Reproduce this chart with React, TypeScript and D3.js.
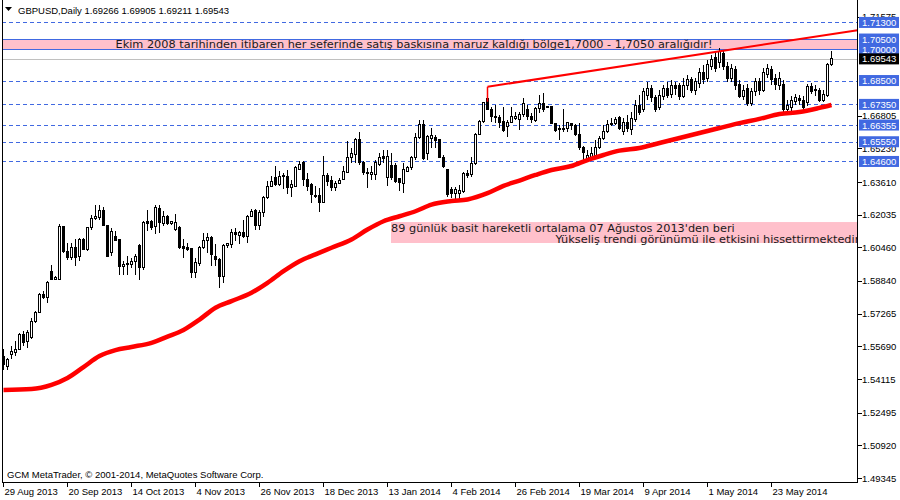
import React, { useEffect } from 'react'
import * as d3 from 'd3'

// GBPUSD daily candles, 29 Aug 2013 .. 13 Jun 2014
const opens = [
  1.5522, 1.5474, 1.5530, 1.5538, 1.5554, 1.5626, 1.5594, 1.5610, 1.5690, 1.5731,
  1.5819, 1.5803, 1.5931, 1.5891, 1.5891, 1.6148, 1.6028, 1.5996, 1.6044, 1.6004,
  1.6084, 1.6036, 1.6140, 1.6185, 1.6188, 1.6225, 1.6151, 1.6020, 1.6097, 1.6084,
  1.5952, 1.5963, 1.5963, 1.5979, 1.6055, 1.5947, 1.6169, 1.6172, 1.6145, 1.6232,
  1.6161, 1.6196, 1.6161, 1.6132, 1.6140, 1.6049, 1.6044, 1.6039, 1.5923, 1.5968,
  1.6044, 1.6081, 1.6092, 1.6004, 1.5987, 1.5904, 1.6055, 1.6060, 1.6119, 1.6103,
  1.6116, 1.6100, 1.6196, 1.6225, 1.6151, 1.6212, 1.6285, 1.6341, 1.6381, 1.6349,
  1.6392, 1.6386, 1.6333, 1.6341, 1.6421, 1.6453, 1.6373, 1.6349, 1.6296, 1.6296,
  1.6261, 1.6392, 1.6370, 1.6333, 1.6354, 1.6373, 1.6405, 1.6477, 1.6493, 1.6566,
  1.6453, 1.6405, 1.6397, 1.6397, 1.6445, 1.6485, 1.6381, 1.6440, 1.6440, 1.6376,
  1.6354, 1.6413, 1.6429, 1.6477, 1.6574, 1.6636, 1.6499, 1.6572, 1.6576, 1.6564,
  1.6480, 1.6419, 1.6323, 1.6307, 1.6307, 1.6315, 1.6400, 1.6395, 1.6448, 1.6592,
  1.6652, 1.6764, 1.6711, 1.6673, 1.6673, 1.6652, 1.6628, 1.6647, 1.6668, 1.6663,
  1.6684, 1.6708, 1.6676, 1.6657, 1.6716, 1.6737, 1.6721, 1.6724, 1.6641, 1.6620,
  1.6615, 1.6620, 1.6641, 1.6631, 1.6592, 1.6528, 1.6475, 1.6480, 1.6491, 1.6528,
  1.6572, 1.6604, 1.6636, 1.6641, 1.6673, 1.6602, 1.6650, 1.6612, 1.6660, 1.6732,
  1.6708, 1.6780, 1.6814, 1.6766, 1.6718, 1.6775, 1.6814, 1.6785, 1.6824, 1.6824,
  1.6775, 1.6824, 1.6853, 1.6804, 1.6838, 1.6891, 1.6862, 1.6920, 1.6959, 1.6939,
  1.6978, 1.6920, 1.6862, 1.6901, 1.6833, 1.6775, 1.6814, 1.6737, 1.6795, 1.6843,
  1.6804, 1.6881, 1.6901, 1.6862, 1.6824, 1.6833, 1.6708, 1.6718, 1.6747, 1.6761,
  1.6756, 1.6742, 1.6819, 1.6800, 1.6804, 1.6756, 1.6780, 1.69266,
]
const highs = [
  1.5554, 1.5514, 1.5570, 1.5594, 1.5634, 1.5642, 1.5650, 1.5706, 1.5739, 1.5827,
  1.5835, 1.5883, 1.5963, 1.5907, 1.6161, 1.6151, 1.6068, 1.6068, 1.6084, 1.6092,
  1.6092, 1.6145, 1.6204, 1.6252, 1.6248, 1.6241, 1.6156, 1.6140, 1.6124, 1.6087,
  1.5979, 1.6004, 1.5996, 1.6012, 1.6060, 1.6172, 1.6225, 1.6180, 1.6248, 1.6252,
  1.6220, 1.6204, 1.6175, 1.6209, 1.6148, 1.6084, 1.6068, 1.6044, 1.5996, 1.6052,
  1.6116, 1.6116, 1.6100, 1.6060, 1.5996, 1.6060, 1.6068, 1.6135, 1.6140, 1.6124,
  1.6180, 1.6204, 1.6232, 1.6232, 1.6228, 1.6293, 1.6365, 1.6389, 1.6437, 1.6413,
  1.6405, 1.6421, 1.6373, 1.6437, 1.6461, 1.6461, 1.6405, 1.6357, 1.6341, 1.6333,
  1.6485, 1.6402, 1.6389, 1.6365, 1.6381, 1.6437, 1.6558, 1.6525, 1.6574, 1.6601,
  1.6461, 1.6429, 1.6437, 1.6469, 1.6501, 1.6517, 1.6517, 1.6501, 1.6453, 1.6381,
  1.6453, 1.6440, 1.6485, 1.6598, 1.6662, 1.6660, 1.6588, 1.6620, 1.6588, 1.6566,
  1.6491, 1.6422, 1.6339, 1.6339, 1.6347, 1.6411, 1.6419, 1.6483, 1.6596, 1.6660,
  1.6748, 1.6788, 1.6724, 1.6732, 1.6684, 1.6724, 1.6660, 1.6724, 1.6700, 1.6700,
  1.6764, 1.6732, 1.6692, 1.6724, 1.6780, 1.6788, 1.6727, 1.6727, 1.6647, 1.6636,
  1.6711, 1.6652, 1.6647, 1.6641, 1.6647, 1.6535, 1.6515, 1.6528, 1.6564, 1.6583,
  1.6636, 1.6660, 1.6668, 1.6673, 1.6679, 1.6669, 1.6684, 1.6698, 1.6756, 1.6780,
  1.6814, 1.6843, 1.6828, 1.6780, 1.6804, 1.6828, 1.6843, 1.6853, 1.6843, 1.6838,
  1.6862, 1.6877, 1.6867, 1.6862, 1.6910, 1.6925, 1.6949, 1.6973, 1.6988, 1.7007,
  1.6997, 1.6939, 1.6930, 1.6920, 1.6853, 1.6828, 1.6833, 1.6814, 1.6862, 1.6862,
  1.6910, 1.6930, 1.6920, 1.6881, 1.6891, 1.6853, 1.6756, 1.6775, 1.6785, 1.6780,
  1.6775, 1.6833, 1.6838, 1.6828, 1.6814, 1.6804, 1.6935, 1.69905,
]
const lows = [
  1.5457, 1.5457, 1.5506, 1.5522, 1.5554, 1.5570, 1.5562, 1.5602, 1.5682, 1.5731,
  1.5795, 1.5779, 1.5891, 1.5888, 1.5891, 1.6020, 1.5987, 1.5987, 1.5955, 1.5979,
  1.6036, 1.6028, 1.6132, 1.6180, 1.6180, 1.6148, 1.6004, 1.6004, 1.6076, 1.5915,
  1.5915, 1.5915, 1.5947, 1.5915, 1.5891, 1.5939, 1.6124, 1.6132, 1.6108, 1.6116,
  1.6148, 1.6156, 1.6156, 1.6124, 1.6039, 1.5996, 1.6028, 1.5899, 1.5899, 1.5955,
  1.6036, 1.6020, 1.5955, 1.5955, 1.5851, 1.5875, 1.6044, 1.6044, 1.6076, 1.6060,
  1.6092, 1.6068, 1.6193, 1.6132, 1.6129, 1.6193, 1.6277, 1.6341, 1.6341, 1.6341,
  1.6325, 1.6301, 1.6289, 1.6341, 1.6418, 1.6341, 1.6317, 1.6261, 1.6285, 1.6216,
  1.6261, 1.6341, 1.6317, 1.6317, 1.6349, 1.6370, 1.6405, 1.6453, 1.6453, 1.6445,
  1.6397, 1.6333, 1.6373, 1.6373, 1.6437, 1.6453, 1.6341, 1.6373, 1.6357, 1.6317,
  1.6309, 1.6408, 1.6421, 1.6469, 1.6566, 1.6467, 1.6467, 1.6523, 1.6523, 1.6475,
  1.6427, 1.6291, 1.6283, 1.6274, 1.6274, 1.6307, 1.6379, 1.6387, 1.6443, 1.6588,
  1.6647, 1.6708, 1.6652, 1.6644, 1.6620, 1.6604, 1.6580, 1.6644, 1.6660, 1.6612,
  1.6676, 1.6660, 1.6644, 1.6652, 1.6692, 1.6700, 1.6716, 1.6644, 1.6604, 1.6564,
  1.6604, 1.6604, 1.6612, 1.6583, 1.6515, 1.6467, 1.6467, 1.6475, 1.6483, 1.6519,
  1.6564, 1.6599, 1.6631, 1.6636, 1.6612, 1.6588, 1.6602, 1.6588, 1.6650, 1.6684,
  1.6698, 1.6756, 1.6747, 1.6698, 1.6708, 1.6756, 1.6766, 1.6766, 1.6780, 1.6756,
  1.6766, 1.6804, 1.6790, 1.6780, 1.6814, 1.6833, 1.6843, 1.6901, 1.6891, 1.6910,
  1.6901, 1.6843, 1.6843, 1.6804, 1.6766, 1.6756, 1.6727, 1.6727, 1.6775, 1.6780,
  1.6795, 1.6862, 1.6828, 1.6804, 1.6804, 1.6694, 1.6689, 1.6698, 1.6732, 1.6732,
  1.6708, 1.6727, 1.6785, 1.6775, 1.6747, 1.6747, 1.6771, 1.69211,
]
const closes = [
  1.5482, 1.5506, 1.5546, 1.5554, 1.5626, 1.5586, 1.5634, 1.5690, 1.5731, 1.5819,
  1.5803, 1.5875, 1.5891, 1.5899, 1.6148, 1.6028, 1.5996, 1.6044, 1.5996, 1.6084,
  1.6036, 1.6140, 1.6185, 1.6196, 1.6225, 1.6151, 1.6004, 1.6124, 1.6081, 1.5952,
  1.5963, 1.5968, 1.5979, 1.6000, 1.5947, 1.6164, 1.6161, 1.6140, 1.6236, 1.6164,
  1.6196, 1.6161, 1.6172, 1.6167, 1.6044, 1.6039, 1.6036, 1.5923, 1.5971, 1.6044,
  1.6081, 1.6092, 1.6012, 1.5987, 1.5904, 1.6055, 1.6065, 1.6116, 1.6108, 1.6116,
  1.6100, 1.6196, 1.6220, 1.6151, 1.6215, 1.6285, 1.6341, 1.6365, 1.6349, 1.6389,
  1.6386, 1.6333, 1.6349, 1.6429, 1.6445, 1.6373, 1.6341, 1.6301, 1.6290, 1.6261,
  1.6392, 1.6365, 1.6333, 1.6354, 1.6370, 1.6413, 1.6477, 1.6498, 1.6566, 1.6453,
  1.6408, 1.6400, 1.6405, 1.6453, 1.6477, 1.6472, 1.6485, 1.6381, 1.6365, 1.6360,
  1.6421, 1.6429, 1.6477, 1.6574, 1.6638, 1.6475, 1.6580, 1.6583, 1.6560, 1.6480,
  1.6438, 1.6299, 1.6307, 1.6323, 1.6319, 1.6403, 1.6390, 1.6448, 1.6592, 1.6652,
  1.6743, 1.6711, 1.6676, 1.6676, 1.6647, 1.6609, 1.6647, 1.6679, 1.6676, 1.6684,
  1.6737, 1.6676, 1.6663, 1.6716, 1.6737, 1.6708, 1.6727, 1.6644, 1.6609, 1.6612,
  1.6620, 1.6647, 1.6631, 1.6588, 1.6528, 1.6503, 1.6491, 1.6496, 1.6528, 1.6572,
  1.6604, 1.6636, 1.6644, 1.6660, 1.6620, 1.6650, 1.6621, 1.6669, 1.6732, 1.6698,
  1.6795, 1.6814, 1.6766, 1.6708, 1.6780, 1.6814, 1.6780, 1.6828, 1.6814, 1.6775,
  1.6828, 1.6853, 1.6804, 1.6843, 1.6891, 1.6853, 1.6925, 1.6949, 1.6910, 1.6988,
  1.6920, 1.6862, 1.6910, 1.6828, 1.6775, 1.6804, 1.6737, 1.6795, 1.6843, 1.6804,
  1.6891, 1.6910, 1.6853, 1.6833, 1.6862, 1.6708, 1.6732, 1.6756, 1.6766, 1.6756,
  1.6718, 1.6819, 1.6795, 1.6809, 1.6756, 1.6785, 1.6925, 1.69543,
]

// 89-day simple moving average, sampled [bar index, value]
const smaPoints: [number, number][] = [
  [0, 1.5359], [7, 1.5363], [12, 1.5383], [16, 1.5416], [20, 1.5469], [24, 1.5522],
  [28, 1.5551], [32, 1.5566], [37, 1.5586], [41, 1.5616], [45, 1.5648], [49, 1.5698],
  [53, 1.5755], [57, 1.5787], [62, 1.5827], [66, 1.5875], [70, 1.5931], [74, 1.5979],
  [78, 1.6012], [82, 1.6044], [87, 1.6084], [91, 1.6132], [95, 1.6172], [99, 1.6196],
  [103, 1.6220], [107, 1.6252], [112, 1.6269], [116, 1.6277], [121, 1.6307], [125, 1.6342],
  [129, 1.6368], [133, 1.6395], [137, 1.6419], [142, 1.6438], [146, 1.6467], [150, 1.6491],
  [154, 1.6512], [159, 1.6525], [164, 1.6549], [169, 1.6573], [174, 1.6597], [179, 1.6621],
  [184, 1.6645], [189, 1.6665], [194, 1.6689], [199, 1.6698], [204, 1.6718], [207, 1.6732],
]

// upper trend line anchors [bar index, price]
const trendPoints: [number, number][] = [[121, 1.6820], [214, 1.7094]]

const dateLabels = [
  '29 Aug 2013', '20 Sep 2013', '14 Oct 2013', '4 Nov 2013', '26 Nov 2013', '18 Dec 2013',
  '13 Jan 2014', '4 Feb 2014', '26 Feb 2014', '19 Mar 2014', '9 Apr 2014', '1 May 2014', '23 May 2014',
]
const priceTicks = [1.71575, 1.66805, 1.6523, 1.6361, 1.62035, 1.6046, 1.5884, 1.57265, 1.5569, 1.54115, 1.52495, 1.5092, 1.49345]
const levels = [1.713, 1.705, 1.7, 1.685, 1.6735, 1.66355, 1.6555, 1.646]
const lastPrice = 1.69543
const zone = [1.7, 1.705]

const bandText = 'Ekim 2008 tarihinden itibaren her seferinde satış baskısına maruz kaldığı bölge1,7000 - 1,7050 aralığıdır!'
const smaText1 = "89 günlük basit hareketli ortalama 07 Ağustos 2013'den beri"
const smaText2 = 'Yükseliş trendi görünümü ile etkisini hissettirmektedir.'

const BLUE = '#4169E1'
const PINK = '#FFC0CB'
const AXIS_FONT = '"Liberation Sans", Arial, sans-serif'
const NOTE_FONT = '"DejaVu Sans", Verdana, sans-serif'

export default function App() {
  useEffect(() => {
    document.body.style.margin = '0'
  }, [])

  const width = 900
  const height = 500
  const left = 2
  const right = 857.5
  const bottom = 482.5

  const x = d3.scaleLinear().domain([0, 207]).range([3.5, 831.5])
  const y = d3.scaleLinear().domain([1.49345, 1.6361]).range([478, 182])

  const sma = d3.line<[number, number]>()
    .x(d => x(d[0]))
    .y(d => y(d[1]))
    .curve(d3.curveMonotoneX)

  const [t0, t1] = trendPoints
  const slope = (t1[1] - t0[1]) / (t1[0] - t0[0])
  const trendEnd = x.invert(right)

  return (
    <svg width={width} height={height} style={{ display: 'block', background: '#fff' }}>
      <defs>
        <clipPath id="plot">
          <rect x={left} y={0} width={right - left} height={bottom} />
        </clipPath>
      </defs>

      <g clipPath="url(#plot)">
        {/* resistance zone */}
        <rect x={left} y={y(zone[1])} width={right - left} height={y(zone[0]) - y(zone[1])} fill={PINK} />
        <line x1={left} x2={right} y1={Math.round(y(zone[1])) + 0.5} y2={Math.round(y(zone[1])) + 0.5} stroke={BLUE} />
        <line x1={left} x2={right} y1={Math.round(y(zone[0])) + 0.5} y2={Math.round(y(zone[0])) + 0.5} stroke={BLUE} />

        {/* horizontal levels */}
        {levels.map(v => (
          <line key={v} x1={left} x2={right} y1={Math.round(y(v)) + 0.5} y2={Math.round(y(v)) + 0.5}
            stroke={BLUE} strokeDasharray="4,3" />
        ))}
        <line x1={left} x2={right} y1={Math.round(y(lastPrice)) + 0.5} y2={Math.round(y(lastPrice)) + 0.5} stroke="#C0C0C0" />

        {/* sma annotation box */}
        <rect x={x(97) - 0.5} y={y(1.6168)} width={right - x(97)} height={y(1.6067) - y(1.6168)} fill={PINK} />
        <text x={x(97) - 0.5} y={y(1.6119)} fontFamily={NOTE_FONT} fontSize={11.3} fill="#1a1a1a">{smaText1}</text>
        <text x={x(138)} y={y(1.6067)} fontFamily={NOTE_FONT} fontSize={11.3} fill="#1a1a1a">{smaText2}</text>

        {/* candles */}
        <g shapeRendering="crispEdges">
          {closes.map((c, i) => {
            const o = opens[i]
            const cx = x(i)
            const top = y(Math.max(o, c))
            const bot = y(Math.min(o, c))
            const up = c >= o
            return (
              <g key={i}>
                <line x1={cx} x2={cx} y1={y(highs[i])} y2={y(lows[i])} stroke="#000" />
                <rect x={cx - 1} y={top} width={2} height={Math.max(bot - top, 0.5)}
                  fill={up ? '#fff' : '#000'} stroke="#000" />
              </g>
            )
          })}
        </g>

        {/* moving average */}
        <path d={sma(smaPoints) ?? ''} fill="none" stroke="#FF0000" strokeWidth={4.5} />

        {/* trend line */}
        <line x1={x(t0[0])} y1={y(t0[1])} x2={x(trendEnd)} y2={y(t0[1] + slope * (trendEnd - t0[0]))}
          stroke="#FF0000" strokeWidth={2} />
        <line x1={x(t0[0])} x2={x(t0[0])} y1={y(t0[1])} y2={y(1.6748)} stroke="#FF0000" strokeWidth={1.5} />

        {/* zone note */}
        <text x={x(28)} y={y(1.70065)} fontFamily={NOTE_FONT} fontSize={11} fill="#1a1a1a"
          textLength={597} lengthAdjust="spacingAndGlyphs">{bandText}</text>
      </g>

      {/* frame */}
      <g shapeRendering="crispEdges" stroke="#000">
        <line x1={left + 0.5} x2={left + 0.5} y1={0} y2={bottom} />
        <line x1={left} x2={right} y1={bottom} y2={bottom} />
        <line x1={right} x2={right} y1={0} y2={bottom} />
      </g>

      {/* header */}
      <path d="M5,7 L12,7 L8.5,11 Z" fill="#000" />
      <text x={18} y={14} fontFamily={AXIS_FONT} fontSize={9.5} fill="#000">
        GBPUSD,Daily  1.69266 1.69905 1.69211 1.69543
      </text>
      <text x={7} y={478} fontFamily={AXIS_FONT} fontSize={9.5} fill="#000">
        GCM MetaTrader, © 2001-2014, MetaQuotes Software Corp.
      </text>

      {/* time axis */}
      <g fontFamily={AXIS_FONT} fontSize={9.5} fill="#000">
        {dateLabels.map((d, k) => {
          const tx = Math.round(x(k * 16)) - 0.5
          return (
            <g key={d}>
              <line x1={tx} x2={tx} y1={bottom} y2={bottom + 4} stroke="#000" shapeRendering="crispEdges" />
              <text x={tx + 1} y={495}>{d}</text>
            </g>
          )
        })}
      </g>

      {/* price axis */}
      <g fontFamily={AXIS_FONT} fontSize={9.5}>
        {priceTicks.map(v => (
          <g key={v}>
            <line x1={right} x2={right + 4} y1={Math.round(y(v)) + 0.5} y2={Math.round(y(v)) + 0.5} stroke="#000" shapeRendering="crispEdges" />
            <text x={862} y={y(v) + 3.5} fill="#000">{d3.format('.5f')(v)}</text>
          </g>
        ))}
        {levels.map(v => (
          <g key={v}>
            <rect x={859} y={y(v) - 5.5} width={40} height={11} fill={BLUE} />
            <text x={862} y={y(v) + 3.5} fill="#fff">{d3.format('.5f')(v)}</text>
          </g>
        ))}
        <rect x={859} y={y(lastPrice) - 5.5} width={40} height={11} fill="#000" />
        <text x={862} y={y(lastPrice) + 3.5} fill="#fff">{d3.format('.5f')(lastPrice)}</text>
      </g>
    </svg>
  )
}
